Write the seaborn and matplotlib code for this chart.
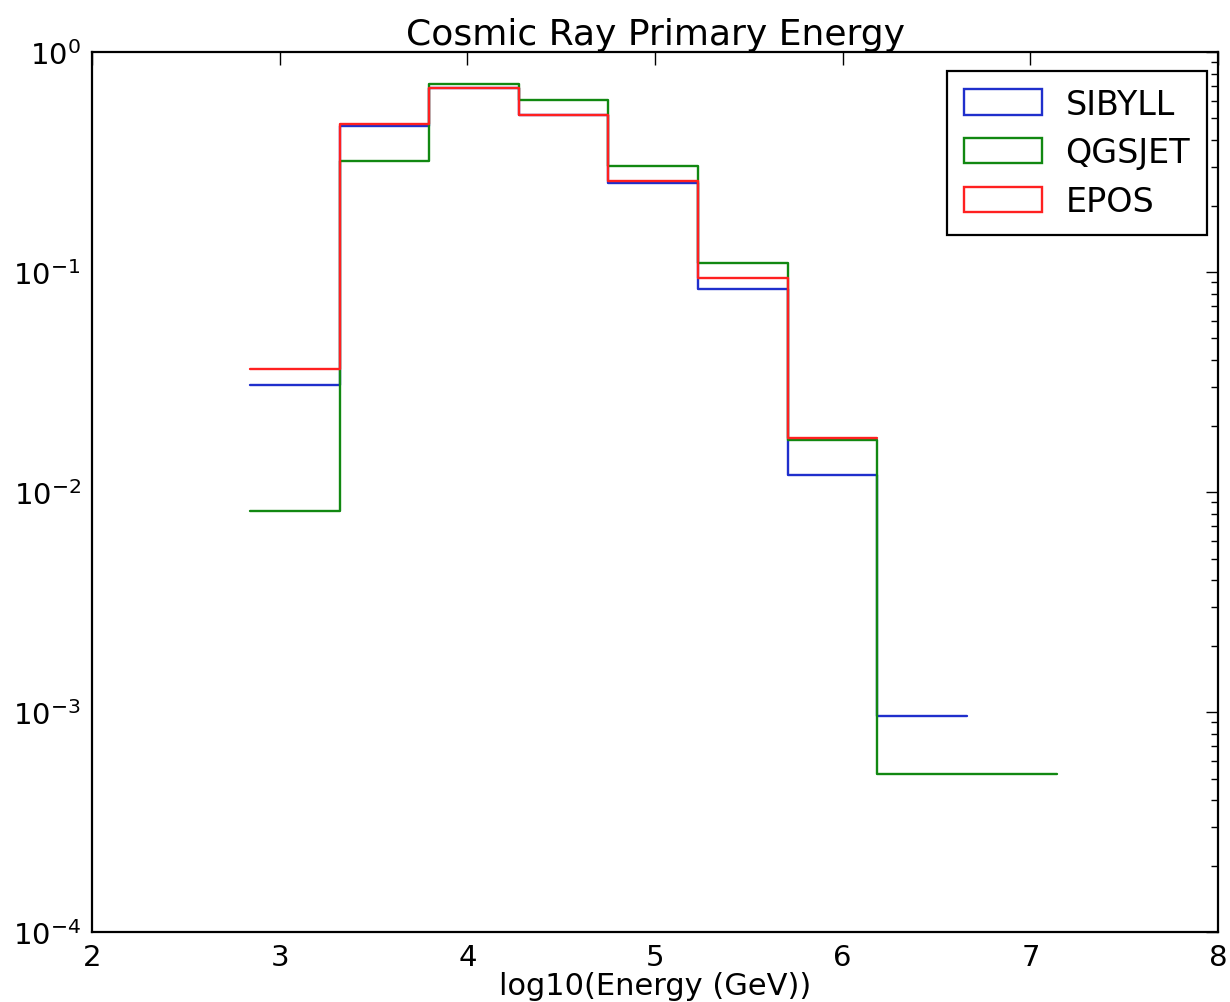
import numpy as np
import pandas as pd
import matplotlib
matplotlib.use("Agg")
import matplotlib.pyplot as plt
from matplotlib.patches import Patch
import seaborn as sns

# bin edges of log10(E/GeV)
bin_edges = [2.842, 3.320, 3.797, 4.275, 4.752, 5.230, 5.708, 6.185, 6.663, 7.140]
models = ["SIBYLL", "QGSJET", "EPOS"]
sibyll = [0.0308, 0.462, 0.69, 0.52, 0.254, 0.084, 0.0120, 9.6e-4, np.nan]
qgsjet = [0.0082, 0.322, 0.718, 0.609, 0.305, 0.110, 0.0172, 5.25e-4, 5.25e-4]
epos = [0.0363, 0.472, 0.686, 0.520, 0.261, 0.094, 0.0177, np.nan, np.nan]
colors = {"SIBYLL": "#1f2fcc", "QGSJET": "#118811", "EPOS": "#ff2020"}

rows = []
for name, vals in zip(models, [sibyll, qgsjet, epos]):
    v = [x for x in vals if not np.isnan(x)]
    ys = v + [v[-1]]
    xs = bin_edges[:len(ys)]
    for x, y in zip(xs, ys):
        rows.append({"model": name, "energy": x, "frac": y})
df = pd.DataFrame(rows)

sns.set_style("white")
plt.rcParams["font.family"] = ["DejaVu Sans"]
plt.rcParams["text.color"] = "black"
plt.rcParams["axes.labelcolor"] = "black"
plt.rcParams["xtick.color"] = "black"
plt.rcParams["ytick.color"] = "black"

fig = plt.figure(figsize=(12.30, 10.03), dpi=100)
ax = fig.add_axes([0.0748, 0.0695, 0.9155, 0.8774])

sns.lineplot(data=df, x="energy", y="frac", hue="model", hue_order=models,
             palette=colors, estimator=None, sort=True, drawstyle="steps-post",
             linewidth=1.7, legend=False, ax=ax)

ax.set_yscale("log")
ax.set_xlim(2, 8)
ax.set_ylim(1e-4, 1)
ax.set_xticks([2, 3, 4, 5, 6, 7, 8])
ax.tick_params(axis="both", which="both", direction="in", top=True, right=True,
               labelsize=21, pad=8, colors="black")
ax.tick_params(which="major", length=9, width=1)
ax.tick_params(which="minor", length=5, width=1)
for s in ax.spines.values():
    s.set_color("black")
    s.set_linewidth(1.6)

ax.set_title("Cosmic Ray Primary Energy", fontsize=26, pad=6, color="black")
ax.set_xlabel("log10(Energy (GeV))", fontsize=22, labelpad=0, color="black")
ax.set_ylabel("")

handles = [Patch(facecolor="none", edgecolor=colors[m], linewidth=1.7, label=m) for m in models]
leg = ax.legend(handles=handles, loc="upper right", bbox_to_anchor=(0.990, 0.9788),
                fontsize=24, frameon=True, fancybox=False, edgecolor="black",
                framealpha=1.0, handlelength=2.35, handleheight=0.8, borderaxespad=0.0,
                labelspacing=0.47, handletextpad=0.7, borderpad=0.5)
leg.get_frame().set_linewidth(1.6)
for t in leg.get_texts():
    t.set_color("black")

fig.savefig("out.png", dpi=100, facecolor="white")
